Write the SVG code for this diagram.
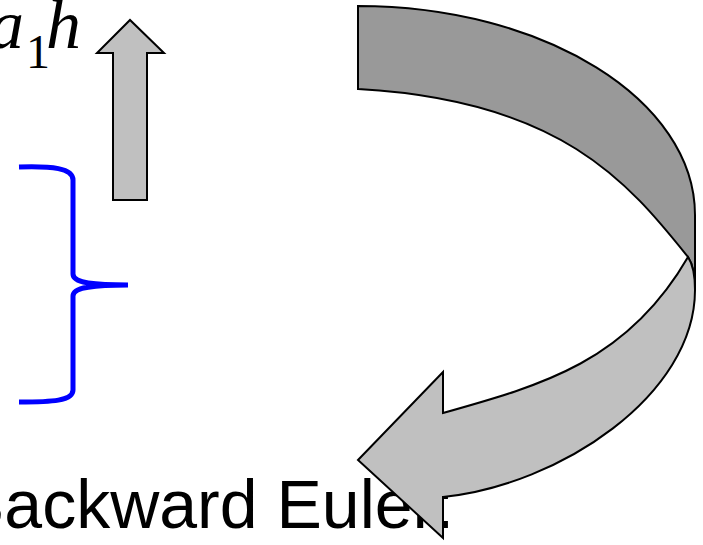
<svg xmlns="http://www.w3.org/2000/svg" width="703" height="545" viewBox="0 0 703 545">
<style>
.shape{stroke:#000;stroke-width:2;stroke-linejoin:miter}
.dark{fill:#999999}
.light{fill:#c0c0c0}
.math{font-family:"Liberation Serif","Times New Roman",serif}
.label{font-family:"Liberation Sans",Arial,sans-serif;font-size:68px;fill:#000}
</style>
<rect width="703" height="545" fill="#fff"/>
<g id="label-a1h" class="math">
<text x="-11" y="48" font-size="70" font-style="italic">a</text>
<text x="26" y="68" font-size="48">1</text>
<text x="46" y="48" font-size="70" font-style="italic">h</text>
</g>
<g id="label-backward-euler">
<text class="label" x="-41" y="528">Backward Euler:</text>
</g>
<g id="brace">
<path d="M19,167 C52,166 73,168 73,180 L73,274 C73,283 92,285 128,285 C92,285 73,287 73,296 L73,390 C73,401 52,402 19,402" fill="none" stroke="#0000ff" stroke-width="5" stroke-linecap="butt"/>
</g>
<g id="connectors">
<polygon id="up-arrow" class="shape light" points="113,200 113,53 97,53 130,20 164,53 147,53 147,200"/>
<g id="curved-arrow">
<path class="shape dark" d="M358,6 C544,6 695,100 695,215 L695,290 C695,276 692,263 688,257 C628,182 560,100 358,89 Z"/>
<path class="shape light" d="M688,257 C628,361 543,385 443,413 L443,372 L358,460 L443,538 L443,497 C560,485 695,395 695,290 C695,276 692,263 688,257 Z"/>
</g>
</g>
</svg>
